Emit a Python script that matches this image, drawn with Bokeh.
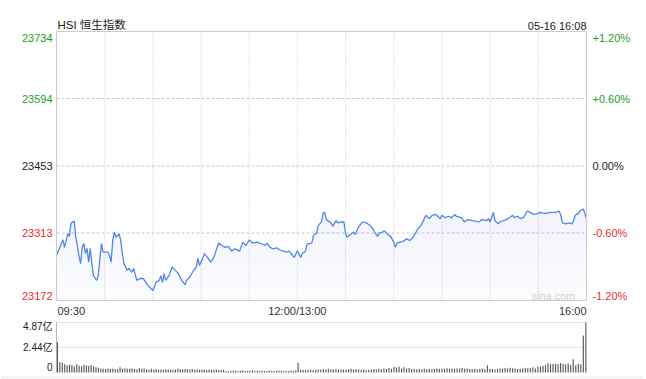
import numpy as np
from bokeh.plotting import figure
from bokeh.models import Label, Range1d
from bokeh.embed import file_html
from bokeh.resources import INLINE

# ---------------- data ----------------
# trading minutes since 09:30 (lunch break removed: 150 = 12:00/13:00, 330 = 16:00)
times = [0, 4, 5, 7, 8, 9, 10, 11, 12, 13, 14, 15, 16, 17, 18, 19, 20, 21, 22, 23,
         25, 26, 27, 28, 29, 32, 33, 34, 35, 36, 37, 39, 40, 41, 42, 44, 45, 47, 48, 50,
         52, 54, 56, 57, 60, 62, 64, 65, 66, 67, 68, 70, 72, 74, 76, 78, 80, 81, 83, 85,
         87, 88, 89, 91, 92, 94, 96, 98, 100, 101, 103, 105, 107, 109, 111, 114, 116, 118, 120, 122,
         125, 128, 130, 131, 133, 135, 137, 139, 143, 145, 147, 148, 150, 152, 153, 155, 156, 159, 160, 162,
         163, 165, 166, 167, 168, 171, 172, 174, 175, 177, 179, 180, 181, 183, 185, 186, 188, 190, 191, 193,
         195, 197, 198, 200, 201, 203, 204, 206, 208, 210, 211, 212, 214, 216, 218, 220, 222, 225, 227, 229,
         230, 232, 234, 236, 239, 240, 242, 244, 246, 248, 249, 252, 254, 256, 259, 261, 263, 265, 268, 269,
         270, 272, 273, 275, 276, 280, 282, 284, 285, 287, 289, 291, 293, 295, 297, 299, 301, 304, 308, 311,
         313, 314, 315, 317, 319, 321, 322, 323, 325, 326, 328, 329, 330]
prices = [23266, 23299, 23283, 23311, 23306, 23333, 23336, 23338, 23304, 23287, 23266, 23249, 23283, 23291, 23270, 23281, 23252, 23281, 23249, 23224,
          23214, 23224, 23260, 23291, 23273, 23273, 23266, 23252, 23297, 23315, 23304, 23311, 23297, 23270, 23249, 23235, 23239, 23231, 23239, 23214,
          23218, 23218, 23208, 23203, 23193, 23210, 23214, 23224, 23210, 23228, 23214, 23224, 23242, 23235, 23228, 23214, 23205, 23214, 23221, 23233,
          23242, 23260, 23245, 23260, 23270, 23262, 23252, 23262, 23283, 23292, 23287, 23283, 23285, 23275, 23280, 23275, 23294, 23287, 23299, 23292,
          23294, 23290, 23287, 23292, 23283, 23280, 23282, 23278, 23273, 23275, 23266, 23262, 23276, 23262, 23270, 23275, 23290, 23292, 23308, 23313,
          23329, 23336, 23354, 23356, 23341, 23334, 23327, 23339, 23334, 23336, 23336, 23311, 23304, 23310, 23315, 23310, 23325, 23334, 23336, 23334,
          23329, 23322, 23315, 23306, 23313, 23315, 23318, 23311, 23306, 23294, 23283, 23292, 23294, 23296, 23301, 23297, 23304, 23322, 23329, 23343,
          23350, 23343, 23350, 23352, 23343, 23350, 23345, 23348, 23345, 23352, 23348, 23345, 23336, 23341, 23339, 23338, 23336, 23341, 23339, 23343,
          23336, 23356, 23339, 23332, 23336, 23341, 23345, 23350, 23345, 23348, 23343, 23346, 23359, 23356, 23352, 23353, 23356, 23354, 23356, 23356,
          23359, 23350, 23334, 23332, 23334, 23332, 23339, 23350, 23354, 23360, 23363, 23353, 23343]

# volume (亿) per bar, morning and afternoon sessions
vol_am = [2.95, 1.02, 0.95, 0.80, 0.70, 0.75, 0.74, 0.60, 0.80, 0.68, 0.62, 0.76, 0.70, 0.64, 0.72, 0.62, 0.52, 0.46, 0.40, 0.36,
          0.35, 0.38, 0.36, 0.40, 0.35, 0.32, 0.50, 0.36, 0.42, 0.36, 0.40, 0.38, 0.34, 0.30, 0.42, 0.36, 0.40, 0.30, 0.28, 0.36,
          0.30, 0.34, 0.26, 0.30, 0.28, 0.33, 0.30, 0.26, 0.28, 0.30, 0.36, 0.32, 0.30, 0.34, 0.32, 0.30, 0.34, 0.28, 0.30, 0.26,
          0.30, 0.28, 0.24, 0.30, 0.28, 0.26, 0.30, 0.24, 0.28, 0.26, 0.14, 0.12, 0.18, 0.20, 0.18, 0.15, 0.16, 0.22, 0.14, 0.18,
          0.16, 0.22, 0.15, 0.18, 0.14, 0.20, 0.16, 0.15, 0.20, 0.18, 0.14, 0.16, 0.20, 0.18, 0.16, 0.18, 0.15, 0.20, 0.18, 0.22]
vol_pm = [0.95, 0.26, 0.24, 0.28, 0.26, 0.30, 0.24, 0.28, 0.30, 0.26, 0.34, 0.30, 0.36, 0.32, 0.30, 0.34, 0.28, 0.32, 0.30, 0.28,
          0.32, 0.36, 0.30, 0.34, 0.30, 0.28, 0.30, 0.26, 0.28, 0.30, 0.34, 0.30, 0.36, 0.32, 0.40, 0.34, 0.44, 0.36, 0.55, 0.48,
          0.56, 0.40, 0.52, 0.38, 0.44, 0.34, 0.36, 0.30, 0.34, 0.30, 0.36, 0.32, 0.34, 0.30, 0.36, 0.38, 0.34, 0.40, 0.36, 0.42,
          0.38, 0.40, 0.36, 0.40, 0.38, 0.44, 0.36, 0.40, 0.34, 0.32, 0.36, 0.30, 0.34, 0.38, 0.32, 0.70, 0.36, 0.34, 0.30, 0.36,
          0.40, 0.38, 0.44, 0.40, 0.46, 0.42, 0.38, 0.34, 0.36, 0.40, 0.46, 0.42, 0.44, 0.50, 0.40, 0.55, 0.58, 0.66, 0.72, 0.90,
          0.80, 0.82, 0.86, 0.80, 0.92, 0.84, 0.78, 0.88, 0.74, 1.30, 0.70, 0.86, 0.80, 3.60, 4.87]

price_ticks = [23734, 23594, 23453, 23313, 23172]
pct_labels = ["+1.20%", "+0.60%", "0.00%", "-0.60%", "-1.20%"]
tick_colors = ["#1e9e1e", "#1e9e1e", "#222222", "#ee2a2a", "#ee2a2a"]
time_grid = [30, 60, 90, 120, 150, 180, 210, 240, 270, 300]
time_ticks = [0, 150, 330]
time_labels = ["09:30", "12:00/13:00", "16:00"]
vol_ticks = [4.87, 2.44, 0]
vol_labels = ["4.87亿", "2.44亿", "0"]
title_text = "HSI 恒生指数"
stamp_text = "05-16 16:08"

# ---------------- layout (pixels on the 646x379 canvas) ----------------
W, H = 646, 379
L, R = 56, 586          # chart box left / right
T, B = 31, 300          # price panel top / bottom
VT, VB = 322, 372       # volume panel top / bottom
FONT = "Liberation Sans, Noto Sans CJK SC"

n = min(len(times), len(prices))
t = np.array(times[:n], dtype=float)
pr = np.array(prices[:n], dtype=float)
ymin, ymax = price_ticks[-1], price_ticks[0]
tmin, tmax = 0, 330
vmax = vol_ticks[0]

ppm = (R - L) / (tmax - tmin)
ppu = (B - T) / (ymax - ymin)
vpu = (VB - VT) / vmax
x_range = Range1d(tmin - L / ppm, tmax + (W - R) / ppm)
y_range = Range1d(ymin - (H - B) / ppu, ymax + T / ppu)
vol_range = Range1d(0 - (H - VB) / vpu, vmax + VT / vpu)

p = figure(width=W, height=H, x_range=x_range, y_range=y_range,
           output_backend="svg", toolbar_location=None, title=None,
           x_axis_location=None, y_axis_location=None,
           min_border=0, min_border_left=0, min_border_right=0,
           min_border_top=0, min_border_bottom=0)
p.extra_y_ranges = {"vol": vol_range}
p.grid.visible = False
p.outline_line_color = None
p.background_fill_color = "white"
p.border_fill_color = "white"

GRID = "#c8c8c8"
# price panel grid
p.segment(x0=time_grid, y0=[ymin] * len(time_grid), x1=time_grid, y1=[ymax] * len(time_grid),
          line_color=GRID, line_dash="1 2", line_width=1)
mid = price_ticks[1:4]
p.segment(x0=[tmin] * len(mid), y0=mid, x1=[tmax] * len(mid), y1=mid,
          line_color=GRID, line_dash="3 2", line_width=1)

# soft vertical gradient under the line
p.varea(x=t, y1=ymin, y2=pr, fill_color="#4f86e8", fill_alpha=0.025)
for lev in np.linspace(ymin, pr.max(), 10)[1:]:
    p.varea(x=t, y1=lev, y2=np.maximum(pr, lev), fill_color="#4f86e8", fill_alpha=0.008)
p.line(t, pr, line_color="#4f86e8", line_width=1.3)

# box
p.quad(left=tmin, right=tmax, bottom=ymin, top=ymax, fill_color=None, line_color="#cccccc", line_width=1)

offs = [-6, 0, 0, 0, 5]
for val, pct, c, o in zip(price_ticks, pct_labels, tick_colors, offs):
    p.add_layout(Label(x=tmin, y=val, x_offset=-4, y_offset=o, text=str(val), text_align="right",
                       text_baseline="alphabetic", text_color=c, text_font_size="11px", text_font=FONT))
    p.add_layout(Label(x=tmax, y=val, x_offset=6, y_offset=o, text=pct, text_align="left",
                       text_baseline="alphabetic", text_color=c, text_font_size="11px", text_font=FONT))

aligns = ["left", "center", "right"]
for tv, tl, al in zip(time_ticks, time_labels, aligns):
    p.add_layout(Label(x=tv, y=ymin, x_offset=1 if al == "left" else 0, y_offset=-10, text=tl,
                       text_align=al, text_baseline="alphabetic", text_color="#333333",
                       text_font_size="11px", text_font=FONT))

p.add_layout(Label(x=tmin, y=ymax, x_offset=1, y_offset=7, text=title_text, text_align="left",
                   text_baseline="alphabetic", text_color="#222222", text_font_size="11.5px", text_font=FONT))
p.add_layout(Label(x=tmax, y=ymax, x_offset=0, y_offset=6, text=stamp_text, text_align="right",
                   text_baseline="alphabetic", text_color="#222222", text_font_size="11px", text_font=FONT))
p.add_layout(Label(x=tmax, y=ymin, x_offset=-11, y_offset=5, text="sina.com", text_align="right",
                   text_baseline="alphabetic", text_color="#d0d0d0", text_font_size="11px", text_font=FONT))

# ---------------- volume panel ----------------
vg = vol_ticks[:2]
p.segment(x0=[tmin] * 2, y0=vg, x1=[tmax] * 2, y1=vg, y_range_name="vol",
          line_color=GRID, line_dash="1 1", line_width=1)
p.segment(x0=[tmin], y0=[0], x1=[tmin], y1=[vmax], y_range_name="vol",
          line_color="#bbbbbb", line_width=1)

t_am = np.linspace(0.6, 149.0, len(vol_am))
t_pm = np.linspace(150.4, 329.6, len(vol_pm))
p.vbar(x=np.concatenate([t_am, t_pm]), top=np.array(vol_am + vol_pm), bottom=0, width=0.7,
       y_range_name="vol", fill_color="#555555", line_color=None)

voffs = [-4, 0, 6]
for val, lab, o in zip(vol_ticks, vol_labels, voffs):
    p.add_layout(Label(x=tmin, y=val, y_range_name="vol", x_offset=-4, y_offset=o, text=lab,
                       text_align="right", text_baseline="alphabetic", text_color="#222222",
                       text_font_size="10px", text_font=FONT))

# light strip at the very bottom
p.quad(left=x_range.start, right=tmax + (W - 4 - R) / ppm, bottom=vol_range.start,
       top=0 - (376 - VB) / vpu, y_range_name="vol", fill_color="#f2f2f2", line_color=None)

open("out.html", "w").write(file_html(p, INLINE))
